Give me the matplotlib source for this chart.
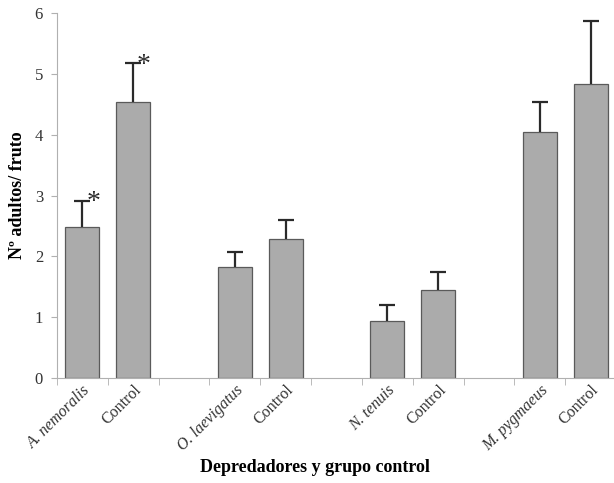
import numpy as np
import matplotlib.pyplot as plt

plt.rcParams['font.family'] = ['Liberation Serif', 'DejaVu Serif']

# Data
labels = ['A. nemoralis', 'Control', 'O. laevigatus', 'Control',
          'N. tenuis', 'Control', 'M. pygmaeus', 'Control']
means = [2.48, 4.53, 1.83, 2.28, 0.94, 1.45, 4.04, 4.84]
errors = [0.43, 0.64, 0.24, 0.32, 0.26, 0.29, 0.49, 1.03]
italic = [True, False, True, False, True, False, True, False]
signif = [True, True, False, False, False, False, False, False]

# two bars per group, one empty slot between groups
pos = np.array([(i // 2) * 3 + i % 2 for i in range(len(labels))])
tops = np.array(means) + np.array(errors)

fig = plt.figure(figsize=(6.14, 4.83), dpi=100)
ax = fig.add_axes([57 / 614, 105 / 483, 559 / 614, 365 / 483])

axis_grey = '#b0b0b0'
ax.bar(pos, means, width=0.67, color='#ababab', edgecolor='#5a5a5a',
       linewidth=0.9, zorder=2)
# upper error bars only
ax.vlines(pos, means, tops, color='#2a2a2a', linewidth=1.6, zorder=3)
ax.plot(pos, tops, linestyle='none', marker='_', markersize=11,
        markeredgewidth=1.6, color='#2a2a2a', zorder=3)

for x, t, s in zip(pos, tops, signif):
    if s:
        ax.text(x + 0.21, t - 0.03, '*', fontsize=20, ha='center', va='center',
                color='#2a2a2a')

ax.set_xlim(-0.5, 10.5)
ax.set_ylim(0, 6)
ax.set_yticks(range(0, 7))
ax.tick_params(axis='y', labelsize=12, length=4, color=axis_grey, pad=6,
               labelcolor='#333333')

ax.set_xticks(np.arange(-0.5, 11, 1), minor=True)
ax.set_xticks(pos)
ax.set_xticklabels(labels, rotation=45, ha='right', rotation_mode='anchor',
                   fontsize=11.5, color='#333333')
for lab, it in zip(ax.get_xticklabels(), italic):
    if it:
        lab.set_style('italic')
ax.tick_params(axis='x', which='major', length=0, pad=3)
ax.tick_params(axis='x', which='minor', length=5, color=axis_grey)

for side in ['top', 'right']:
    ax.spines[side].set_visible(False)
for side in ['left', 'bottom']:
    ax.spines[side].set_color(axis_grey)

ax.set_ylabel('Nº adultos/ fruto', fontsize=13, fontweight='bold', labelpad=6)
ax.set_xlabel('Depredadores y grupo control', fontsize=13, fontweight='bold')
ax.xaxis.set_label_coords((315 - 57) / 559, (378 - 459) / 365)

fig.savefig('out.png', dpi=100)
